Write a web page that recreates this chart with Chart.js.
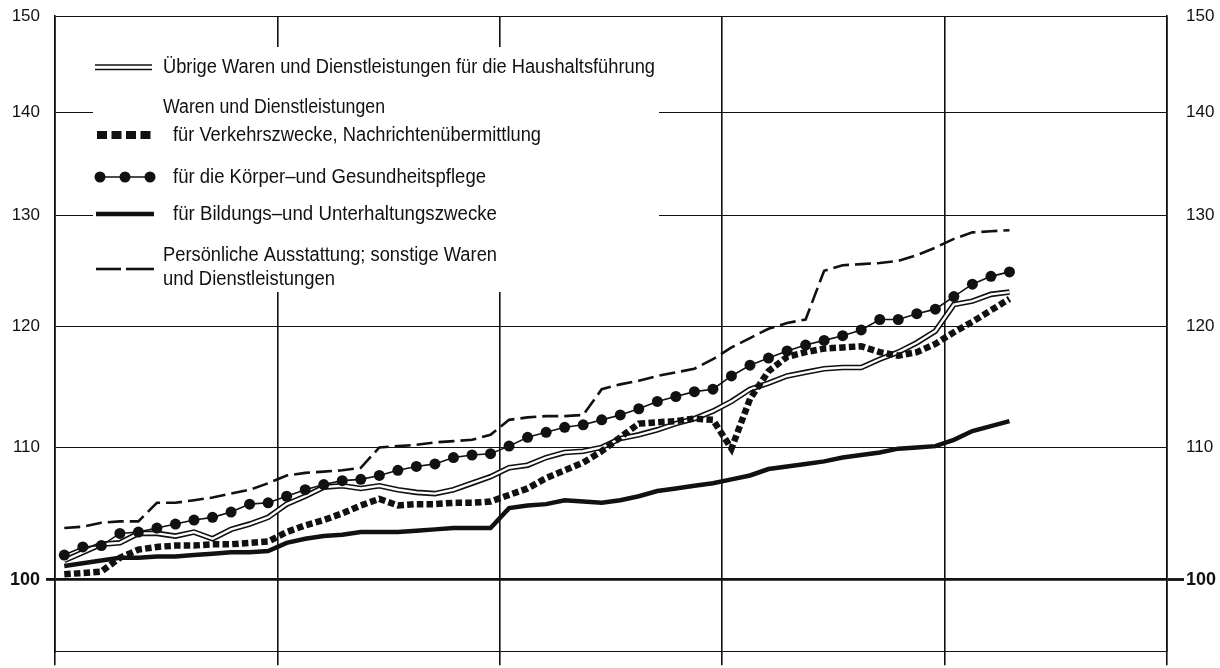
<!DOCTYPE html>
<html lang="de">
<head>
<meta charset="utf-8">
<title>Preisindex für die Lebenshaltung</title>
<script src="https://cdn.jsdelivr.net/npm/chart.js@4.4.1/dist/chart.umd.min.js"></script>
<style>
  html, body { margin: 0; padding: 0; background: #fff; }
  #wrap { width: 1220px; height: 668px; }
</style>
</head>
<body>
<div id="wrap"><canvas id="chart" width="1220" height="668"></canvas></div>
<script>
// monthly index values (log scale, 100 = base)
const uebrige = [101.4, 102.0, 102.6, 102.7, 103.4, 103.4, 103.2, 103.5, 103.0, 103.7, 104.1, 104.6,
  105.6, 106.2, 106.9, 107.0, 106.8, 107.0, 106.7, 106.5, 106.4, 106.7, 107.2, 107.7,
  108.4, 108.6, 109.2, 109.6, 109.7, 110.0, 110.7, 111.0, 111.4, 111.9, 112.3, 112.9,
  113.7, 114.7, 115.2, 115.8, 116.1, 116.4, 116.5, 116.5, 117.2, 117.8, 118.6, 119.6,
  121.9, 122.2, 122.8, 123.0];
const verkehr = [100.4, 100.5, 100.6, 101.6, 102.2, 102.4, 102.5, 102.5, 102.6, 102.6, 102.7, 102.8,
  103.5, 104.0, 104.4, 104.9, 105.5, 106.0, 105.5, 105.6, 105.6, 105.7, 105.7, 105.8,
  106.3, 106.8, 107.6, 108.2, 108.8, 109.7, 110.8, 111.9, 112.0, 112.1, 112.3, 112.2,
  109.9, 113.9, 116.2, 117.4, 117.8, 118.1, 118.2, 118.3, 117.8, 117.5, 117.8, 118.5,
  119.5, 120.4, 121.4, 122.4];
const koerper = [101.8, 102.4, 102.5, 103.4, 103.5, 103.8, 104.1, 104.4, 104.6, 105.0, 105.6, 105.7,
  106.2, 106.7, 107.1, 107.4, 107.5, 107.8, 108.2, 108.5, 108.7, 109.2, 109.4, 109.5,
  110.1, 110.8, 111.2, 111.6, 111.8, 112.2, 112.6, 113.1, 113.7, 114.1, 114.5, 114.7,
  115.8, 116.7, 117.3, 117.9, 118.4, 118.8, 119.2, 119.7, 120.6, 120.6, 121.1, 121.5,
  122.6, 123.7, 124.4, 124.8];
const bildung = [101.0, 101.2, 101.4, 101.6, 101.6, 101.7, 101.7, 101.8, 101.9, 102.0, 102.0, 102.1,
  102.7, 103.0, 103.2, 103.3, 103.5, 103.5, 103.5, 103.6, 103.7, 103.8, 103.8, 103.8,
  105.3, 105.5, 105.6, 105.9, 105.8, 105.7, 105.9, 106.2, 106.6, 106.8, 107.0, 107.2,
  107.5, 107.8, 108.3, 108.5, 108.7, 108.9, 109.2, 109.4, 109.6, 109.9, 110.0, 110.1,
  110.6, 111.3, 111.7, 112.1];
const persoenlich = [103.8, 103.9, 104.2, 104.3, 104.3, 105.7, 105.7, 105.9, 106.1, 106.4, 106.7, 107.2,
  107.8, 108.0, 108.1, 108.2, 108.4, 110.0, 110.1, 110.2, 110.4, 110.5, 110.6, 111.0,
  112.2, 112.4, 112.5, 112.5, 112.6, 114.7, 115.1, 115.4, 115.8, 116.1, 116.4, 117.2,
  118.2, 119.0, 119.8, 120.3, 120.6, 124.9, 125.4, 125.5, 125.6, 125.8, 126.3, 127.0,
  127.8, 128.4, 128.5, 128.6];

const yTicks = [100, 110, 120, 130, 140, 150];
const yearBounds = [0, 12, 24, 36, 48, 60]; // months, vertical rules at year ends

const FONT = '"Liberation Sans", Arimo, Arial, sans-serif';
const INK = '#111';

// month i sits in the middle of its month slot
function points(values) {
  return values.map((v, i) => ({ x: i + 0.5, y: v }));
}

function line(ctx, x1, y1, x2, y2) {
  ctx.beginPath(); ctx.moveTo(x1, y1); ctx.lineTo(x2, y2); ctx.stroke();
}

// squeeze text to the width it has in the original (condensed face)
function fitText(ctx, text, x, y, width) {
  const w = ctx.measureText(text).width;
  ctx.save();
  ctx.translate(x, y);
  ctx.scale(width / w, 1);
  ctx.fillText(text, 0, 0);
  ctx.restore();
}

const legendRows = [
  { text: 'Übrige Waren und Dienstleistungen für die Haushaltsführung', x: 163, y: 67, w: 492 },
  { text: 'Waren und Dienstleistungen', x: 163, y: 107, w: 222 },
  { text: 'für Verkehrszwecke, Nachrichtenübermittlung', x: 173, y: 135, w: 368 },
  { text: 'für die Körper–und Gesundheitspflege', x: 173, y: 177, w: 313 },
  { text: 'für Bildungs–und Unterhaltungszwecke', x: 173, y: 214, w: 324 },
  { text: 'Persönliche Ausstattung; sonstige Waren', x: 163, y: 255, w: 334 },
  { text: 'und Dienstleistungen', x: 163, y: 279, w: 172 }
];

const legendBox = {
  id: 'legendBox',
  beforeDatasetsDraw(chart) {
    const ctx = chart.ctx;
    ctx.save();
    ctx.fillStyle = '#fff';
    ctx.fillRect(93, 47, 566, 245);
    ctx.strokeStyle = INK;
    ctx.fillStyle = INK;
    ctx.lineCap = 'butt';
    // double line
    ctx.lineWidth = 1.4;
    line(ctx, 95, 65, 152, 65);
    line(ctx, 95, 69.5, 152, 69.5);
    // heavy squares
    for (let k = 0; k < 4; k++) ctx.fillRect(97 + k * 14.5, 131, 10, 8);
    // dots on a thin line
    ctx.lineWidth = 1.5;
    line(ctx, 100, 177, 150, 177);
    [100, 125, 150].forEach(x => {
      ctx.beginPath(); ctx.arc(x, 177, 5.5, 0, 2 * Math.PI); ctx.fill();
    });
    // heavy solid
    ctx.lineWidth = 4.5;
    line(ctx, 96, 214, 154, 214);
    // long dashes
    ctx.lineWidth = 2.6;
    line(ctx, 96, 269, 121, 269);
    line(ctx, 126, 269, 154, 269);

    ctx.font = '20px ' + FONT;
    ctx.textBaseline = 'middle';
    ctx.textAlign = 'left';
    legendRows.forEach(r => fitText(ctx, r.text, r.x, r.y, r.w));
    ctx.restore();
  }
};

const isBase = c => c.tick && c.tick.value === 100;
const tickFont = c => isBase(c) ? { family: FONT, size: 18, weight: 'bold' } : { family: FONT, size: 17 };

new Chart(document.getElementById('chart'), {
  type: 'line',
  data: {
    datasets: [
      { label: 'für die Körper- und Gesundheitspflege', data: points(koerper),
        borderColor: INK, borderWidth: 1.6, pointRadius: 5.5, pointBackgroundColor: INK, pointBorderWidth: 0 },
      { label: 'für Verkehrszwecke, Nachrichtenübermittlung', data: points(verkehr),
        borderColor: INK, borderWidth: 6.5, borderDash: [6.5, 3.2], pointRadius: 0 },
      { label: 'Übrige Waren (Innenlinie)', data: points(uebrige),
        borderColor: '#fff', borderWidth: 2.4, pointRadius: 0 },
      { label: 'Übrige Waren und Dienstleistungen für die Haushaltsführung', data: points(uebrige),
        borderColor: INK, borderWidth: 5.6, pointRadius: 0 },
      { label: 'für Bildungs- und Unterhaltungszwecke', data: points(bildung),
        borderColor: INK, borderWidth: 4.5, pointRadius: 0 },
      { label: 'Persönliche Ausstattung; sonstige Waren und Dienstleistungen', data: points(persoenlich),
        borderColor: INK, borderWidth: 2.6, borderDash: [16, 6], pointRadius: 0 }
    ]
  },
  options: {
    responsive: false,
    animation: false,
    devicePixelRatio: 1,
    layout: { padding: { top: 16, left: 0, right: 0, bottom: 0 } },
    elements: { line: { tension: 0, fill: false, borderCapStyle: 'butt' } },
    plugins: { legend: { display: false }, tooltip: { enabled: false } },
    scales: {
      x: {
        type: 'linear', min: 0, max: 60,
        afterBuildTicks: s => { s.ticks = yearBounds.map(v => ({ value: v })); },
        afterFit: s => { s.height = 14; },
        border: { display: true, color: INK, width: 1.1 },
        grid: { color: INK, lineWidth: 1.6, drawTicks: true, tickLength: 14, tickColor: INK, tickWidth: 1.6 },
        ticks: { display: false }
      },
      y: {
        type: 'logarithmic', position: 'left', min: 95, max: 150,
        afterBuildTicks: s => { s.ticks = yTicks.map(v => ({ value: v })); },
        afterFit: s => { s.width = 55; },
        border: { display: true, color: INK, width: 1.6 },
        grid: {
          color: INK,
          lineWidth: c => isBase(c) ? 2.8 : 1.1,
          drawTicks: true, tickLength: 9,
          tickColor: c => isBase(c) ? INK : 'rgba(0,0,0,0)',
          tickWidth: 2.8
        },
        ticks: { color: INK, padding: 6, font: tickFont, callback: v => String(v) }
      },
      y2: {
        type: 'logarithmic', position: 'right', min: 95, max: 150,
        afterBuildTicks: s => { s.ticks = yTicks.map(v => ({ value: v })); },
        afterFit: s => { s.width = 53; },
        border: { display: true, color: INK, width: 1.6 },
        grid: {
          drawOnChartArea: false,
          drawTicks: true, tickLength: 17,
          tickColor: c => isBase(c) ? INK : 'rgba(0,0,0,0)',
          tickWidth: 2.8
        },
        ticks: { color: INK, padding: 2, font: tickFont, callback: v => String(v) }
      }
    }
  },
  plugins: [legendBox]
});
</script>
</body>
</html>
